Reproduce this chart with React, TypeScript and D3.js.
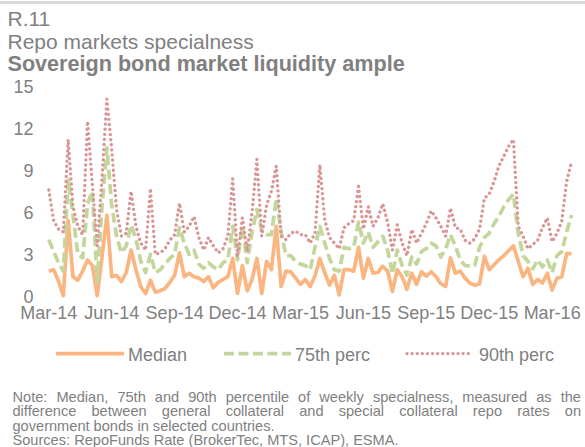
import * as d3 from "d3";

// weekly observations, Mar-14 .. end Mar-16 (109 weeks)
const median = [
  1.8, 1.9, 1.1, 0.05, 5.4, 1.4, 1.15, 1.8, 2.6, 2.2,
  0.05, 2.8, 5.8, 1.4, 1.5, 1.05, 1.7, 3.3, 1.9, 0.7,
  0.2, 1.15, 0.3, 0.4, 0.55, 1.0, 1.5, 3.1, 1.4, 1.65,
  1.4, 1.3, 1.05, 1.4, 0.6, 1.0, 1.2, 1.4, 2.7, 0.2,
  2.2, 0.4, 1.2, 2.7, 0.2, 2.5, 1.9, 5.0, 0.7, 1.8,
  1.75, 1.3, 0.85, 1.2, 0.7, 1.45, 2.7, 1.7, 0.8, 1.5,
  0.1, 1.9, 1.9, 1.8, 3.5, 1.3, 2.7, 1.65, 1.7, 2.15,
  1.8, 0.35, 1.9, 1.4, 0.5, 1.65, 0.85, 1.75, 1.45, 1.75,
  1.4, 0.9, 0.7, 2.75, 1.65, 1.8, 1.3, 0.95, 0.8, 0.9,
  2.85, 1.9, 2.25, 2.6, 2.9, 3.25, 3.6, 2.5, 1.4, 2.0,
  0.85, 1.2, 0.95, 1.65, 0.45, 1.3, 1.4, 3.05, 3.05,
];

const perc75 = [
  4.05, 3.2, 2.4, 1.8, 8.3, 5.8, 3.0, 2.75, 6.6, 7.5,
  1.0, 6.5, 10.6, 6.5, 4.3, 3.1, 3.6, 5.1, 4.1, 2.5,
  1.7, 3.0, 1.7, 1.9, 2.3, 2.7, 3.0, 4.9, 3.8, 3.0,
  3.3, 2.3, 2.0, 2.4, 2.1, 1.9, 2.4, 2.6, 5.0, 2.6,
  5.0, 2.4, 4.6, 6.2, 4.7, 4.4, 4.4, 7.0, 4.6, 2.9,
  2.9, 2.5, 2.3, 2.2, 1.9, 3.5, 5.0, 3.8, 2.7, 1.9,
  1.8, 3.5, 3.4, 3.5, 5.3, 3.8, 4.6, 3.5, 3.9, 4.3,
  3.3, 1.6, 3.3, 2.2, 1.5, 2.8, 2.3, 3.2, 3.4, 3.8,
  3.6, 2.8, 3.4, 4.4, 3.6, 2.6, 2.2, 2.15, 2.2, 3.5,
  4.2, 4.5, 5.2, 5.7, 6.4, 6.9, 7.3, 4.5, 2.9, 2.5,
  1.95, 2.6, 2.1, 2.6, 1.7, 2.9, 3.2, 4.6, 5.8,
];

const perc90 = [
  7.6, 5.4, 4.8, 4.6, 11.2, 6.4, 5.0, 4.4, 12.5, 8.0,
  3.6, 8.5, 14.1, 10.5, 6.2, 4.3, 4.5, 7.5, 5.0, 3.8,
  3.3, 7.7, 3.0, 3.1, 3.4, 4.0, 4.4, 6.65, 4.6, 5.0,
  5.7, 4.2, 3.3, 4.2, 3.6, 3.1, 3.4, 4.3, 8.4, 2.8,
  5.6, 3.2, 6.0, 9.8, 4.3, 6.5, 7.5, 9.3, 4.3, 4.05,
  4.5, 4.65, 4.4, 4.4, 3.8, 4.5, 9.4, 5.5, 4.2, 3.8,
  3.4, 4.9, 5.2, 5.4, 7.85, 4.8, 6.4, 5.0, 5.6, 6.6,
  5.3, 3.3, 5.1, 3.8, 2.9, 4.77, 3.8, 4.5, 5.2, 6.1,
  5.6, 5.0, 4.3, 6.3, 4.9, 4.8, 4.0, 3.8, 4.1, 4.8,
  7.0, 7.3, 8.2, 9.3, 10.0, 10.7, 11.2, 5.0, 4.3, 3.4,
  3.7, 4.0, 4.9, 5.6, 3.9, 4.5, 5.4, 8.2, 9.6,
];

const xLabels = ["Mar-14", "Jun-14", "Sep-14", "Dec-14", "Mar-15", "Jun-15", "Sep-15", "Dec-15", "Mar-16"];
const labelStep = 13;
const yTicks = [0, 3, 6, 9, 12, 15];
const seriesNames = ["Median", "75th perc", "90th perc"];

const noteLines = [
  "Note: Median, 75th and 90th percentile of weekly specialness, measured as the",
  "difference between general collateral and special collateral repo rates on",
  "government bonds in selected countries.",
];
const sources = "Sources: RepoFunds Rate (BrokerTec, MTS, ICAP), ESMA.";

const W = 585;
const H = 447;
const FONT = '"Liberation Sans", Arial, Helvetica, sans-serif';
const GREY = "#808080";
const NOTE_SIZE = 14.6;

const styles = [
  { color: "#FBB581", dash: undefined as string | undefined, cap: "butt", width: 3.7 },
  { color: "#C3D69B", dash: "10 4.5", cap: "butt", width: 3.7 },
  { color: "#D99694", dash: "0.1 5", cap: "round", width: 3.3 },
];

let measureCtx: CanvasRenderingContext2D | null = null;
function textWidth(s: string, font: string) {
  if (!measureCtx) measureCtx = document.createElement("canvas").getContext("2d");
  if (!measureCtx) return s.length * 7;
  measureCtx.font = font;
  return measureCtx.measureText(s).width;
}

function JustifiedLine({ text, x0, x1, y, size }: { text: string; x0: number; x1: number; y: number; size: number }) {
  const words = text.split(" ");
  const cssFont = `${size}px "Liberation Sans"`;
  const widths = words.map((w) => textWidth(w, cssFont));
  const gap = (x1 - x0 - d3.sum(widths)) / (words.length - 1);
  let cx = x0;
  return (
    <g>
      {words.map((w, i) => {
        const px = cx;
        cx += widths[i] + gap;
        return (
          <text key={i} x={px} y={y}>
            {w}
          </text>
        );
      })}
    </g>
  );
}

export default function App() {
  const x = d3.scalePoint<number>().domain(d3.range(median.length)).range([48.8, 571.5]);
  const y = d3.scaleLinear().domain([0, 15]).range([296.3, 86.3]);
  const line = d3
    .line<number>()
    .x((_, i) => x(i) ?? 0)
    .y((d) => y(d));

  const series = [median, perc75, perc90];

  const legend = [
    { x1: 56, x2: 124, tx: 128 },
    { x1: 224, x2: 291, tx: 295 },
    { x1: 407, x2: 470, tx: 479 },
  ];

  return (
    <svg
      width={W}
      height={H}
      viewBox={`0 0 ${W} ${H}`}
      style={{ position: "absolute", left: 0, top: 0, background: "#fff" }}
      fontFamily={FONT}
    >
      <rect x={0} y={1} width={W} height={3} fill="#D9D9D9" />

      <g fill={GREY}>
        <text x={7.5} y={25.5} fontSize={21}>R.11</text>
        <text x={7.5} y={48.7} fontSize={21}>Repo markets specialness</text>
        <text x={7.5} y={70.5} fontSize={21.6} fontWeight="bold">
          Sovereign bond market liquidity ample
        </text>
      </g>

      <g fill={GREY} fontSize={18} textAnchor="end">
        {yTicks.map((t) => (
          <text key={t} x={33.5} y={y(t)} dy="0.36em">
            {t}
          </text>
        ))}
      </g>

      <g fill={GREY} fontSize={18} textAnchor="middle">
        {xLabels.map((lab, k) => (
          <text key={lab} x={x(k * labelStep)} y={318.6}>
            {lab}
          </text>
        ))}
      </g>

      <g fill="none" strokeLinejoin="round">
        {series.map((s, k) => (
          <path
            key={seriesNames[k]}
            d={line(s) ?? undefined}
            stroke={styles[k].color}
            strokeWidth={styles[k].width}
            strokeDasharray={styles[k].dash}
            strokeLinecap={styles[k].cap as "butt" | "round"}
          />
        ))}
      </g>

      <g fontSize={18} fill={GREY}>
        {legend.map((l, k) => (
          <g key={seriesNames[k]}>
            <line
              x1={l.x1}
              x2={l.x2}
              y1={353.6}
              y2={353.6}
              stroke={styles[k].color}
              strokeWidth={styles[k].width}
              strokeDasharray={styles[k].dash}
              strokeLinecap={styles[k].cap as "butt" | "round"}
            />
            <text x={l.tx} y={360.5}>
              {seriesNames[k]}
            </text>
          </g>
        ))}
      </g>

      <g fontSize={NOTE_SIZE} fill={GREY}>
        <JustifiedLine text={noteLines[0]} x0={12.5} x1={581} y={401.5} size={NOTE_SIZE} />
        <JustifiedLine text={noteLines[1]} x0={12.5} x1={581} y={416.2} size={NOTE_SIZE} />
        <text x={12.5} y={430.9}>{noteLines[2]}</text>
        <text x={12.5} y={445.3}>{sources}</text>
      </g>
    </svg>
  );
}
